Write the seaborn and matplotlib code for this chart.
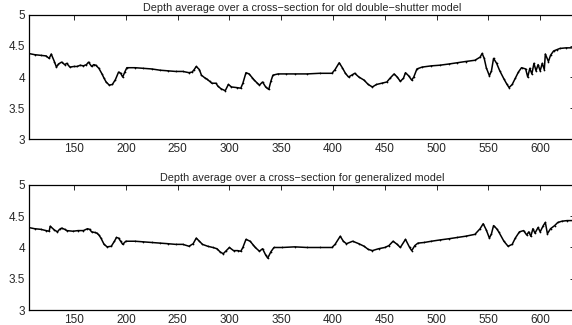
import matplotlib
matplotlib.use("Agg")
import matplotlib.pyplot as plt
import seaborn as sns

# depth averages (x = cross-section position)
x_old = [106, 112, 118, 123, 126, 128, 131, 133, 135, 138, 141, 143, 146, 150, 153, 156, 159, 162, 164, 167,
         169, 171, 174, 177, 179, 181, 184, 187, 190, 193, 195, 197, 199, 201, 209, 217, 225, 233, 241, 248,
         255, 261, 264, 266, 268, 271, 273, 276, 278, 281, 283, 287, 289, 292, 296, 299, 302, 307, 311, 313,
         316, 319, 322, 324, 327, 329, 332, 335, 338, 340, 342, 347, 355, 363, 375, 387, 399, 402, 406, 409,
         412, 415, 418, 421, 425, 430, 434, 438, 442, 447, 452, 455, 459, 462, 465, 468, 470, 473, 476, 478,
         481, 486, 495, 503, 512, 520, 528, 537, 542, 544, 546, 548, 551, 553, 555, 558, 561, 565, 568, 570,
         573, 576, 579, 582, 586, 588, 590, 592, 594, 596, 598, 600, 602, 604, 605, 608, 610, 613, 616, 619,
         625, 633]
y_old = [4.38, 4.36, 4.35, 4.34, 4.30, 4.37, 4.25, 4.16, 4.21, 4.24, 4.20, 4.22, 4.16, 4.17, 4.17, 4.19, 4.18, 4.20, 4.24, 4.17,
         4.20, 4.19, 4.14, 4.05, 3.98, 3.92, 3.87, 3.88, 3.96, 4.08, 4.06, 4.00, 4.08, 4.15, 4.15, 4.14, 4.13, 4.11, 4.10, 4.09,
         4.09, 4.07, 4.08, 4.12, 4.17, 4.12, 4.03, 3.99, 3.97, 3.93, 3.90, 3.90, 3.85, 3.81, 3.78, 3.88, 3.84, 3.83, 3.82, 3.90,
         4.07, 4.05, 3.99, 3.95, 3.90, 3.87, 3.92, 3.84, 3.80, 3.93, 4.03, 4.05, 4.05, 4.05, 4.05, 4.06, 4.06, 4.12, 4.23, 4.15,
         4.06, 4.00, 4.03, 4.06, 4.00, 3.95, 3.88, 3.84, 3.88, 3.90, 3.92, 3.98, 4.05, 4.00, 3.93, 3.98, 4.07, 4.02, 3.95, 4.00,
         4.13, 4.16, 4.18, 4.19, 4.21, 4.23, 4.25, 4.27, 4.32, 4.38, 4.30, 4.15, 4.02, 4.10, 4.30, 4.22, 4.10, 3.97, 3.88, 3.83,
         3.88, 3.98, 4.08, 4.15, 4.13, 4.00, 4.14, 4.05, 4.22, 4.10, 4.20, 4.10, 4.22, 4.12, 4.37, 4.25, 4.35, 4.42, 4.44, 4.46,
         4.47, 4.47]

x_gen = [106, 112, 118, 123, 126, 127, 131, 134, 136, 138, 141, 143, 149, 154, 159, 163, 165, 167, 170, 172,
         174, 176, 179, 182, 186, 189, 191, 193, 195, 197, 200, 209, 217, 225, 233, 241, 248, 255, 261, 265,
         268, 271, 274, 279, 284, 288, 291, 294, 297, 300, 304, 308, 311, 313, 316, 320, 323, 325, 329, 332,
         335, 337, 340, 343, 351, 363, 375, 387, 399, 402, 407, 410, 413, 419, 425, 430, 434, 438, 444, 450,
         454, 458, 462, 465, 470, 474, 476, 479, 482, 488, 495, 503, 512, 520, 528, 537, 542, 545, 548, 551,
         553, 555, 558, 560, 565, 569, 573, 576, 580, 584, 587, 589, 591, 593, 595, 598, 600, 603, 605, 607,
         610, 614, 617, 621, 626, 633]
y_gen = [4.32, 4.30, 4.29, 4.27, 4.26, 4.34, 4.28, 4.25, 4.29, 4.31, 4.29, 4.27, 4.26, 4.27, 4.27, 4.30, 4.29, 4.25, 4.24, 4.23,
         4.20, 4.15, 4.05, 4.01, 4.02, 4.10, 4.16, 4.15, 4.10, 4.05, 4.10, 4.10, 4.09, 4.08, 4.07, 4.06, 4.05, 4.05, 4.02, 4.06,
         4.15, 4.10, 4.05, 4.02, 4.00, 3.98, 3.93, 3.90, 3.95, 4.00, 3.95, 3.95, 3.94, 4.00, 4.13, 4.10, 4.04, 4.00, 3.94, 3.98,
         3.88, 3.83, 3.93, 4.00, 4.00, 4.01, 4.00, 4.00, 4.00, 4.05, 4.18, 4.10, 4.06, 4.10, 4.06, 4.02, 3.97, 3.95, 3.98, 4.00,
         4.03, 4.10, 4.05, 4.00, 4.13, 4.00, 3.95, 4.03, 4.07, 4.08, 4.10, 4.12, 4.14, 4.16, 4.18, 4.21, 4.30, 4.38, 4.28, 4.15,
         4.22, 4.35, 4.30, 4.25, 4.10, 4.02, 4.05, 4.15, 4.25, 4.27, 4.20, 4.25, 4.18, 4.30, 4.23, 4.32, 4.25, 4.35, 4.40, 4.22,
         4.30, 4.35, 4.40, 4.42, 4.43, 4.43]

titles = ["Depth average over a cross\u2212section for old double\u2212shutter model",
          "Depth average over a cross\u2212section for generalized model"]
xticks = [150, 200, 250, 300, 350, 400, 450, 500, 550, 600]
yticks = [3, 3.5, 4, 4.5, 5]
ylabels = ["3", "3.5", "4", "4.5", "5"]

sns.set_style("white")
plt.rcParams['font.family'] = ['Liberation Sans', 'DejaVu Sans']

fig = plt.figure(figsize=(5.72, 3.25), dpi=100)
ax1 = fig.add_axes([0.051, 0.572, 0.954, 0.382])
ax2 = fig.add_axes([0.051, 0.046, 0.954, 0.385])

for ax, xs, ys, ttl in [(ax1, x_old, y_old, titles[0]), (ax2, x_gen, y_gen, titles[1])]:
    sns.lineplot(x=xs, y=ys, ax=ax, color="black", linewidth=1.1,
                 marker=".", markersize=2.5, markeredgewidth=0, sort=False)
    ax.set_xlim(106.7, 633.5)
    ax.set_ylim(3, 5)
    ax.set_xticks(xticks)
    ax.set_yticks(yticks)
    ax.set_yticklabels(ylabels)
    ax.tick_params(direction="in", length=3.5, width=0.7, labelsize=8.5,
                   top=True, right=True, pad=3)
    for s in ax.spines.values():
        s.set_linewidth(0.9)
        s.set_color("black")
    ax.set_title(ttl, fontsize=7.8, pad=3)
    ax.set_xlabel("")
    ax.set_ylabel("")

fig.savefig("out.png", dpi=100, facecolor="white")
